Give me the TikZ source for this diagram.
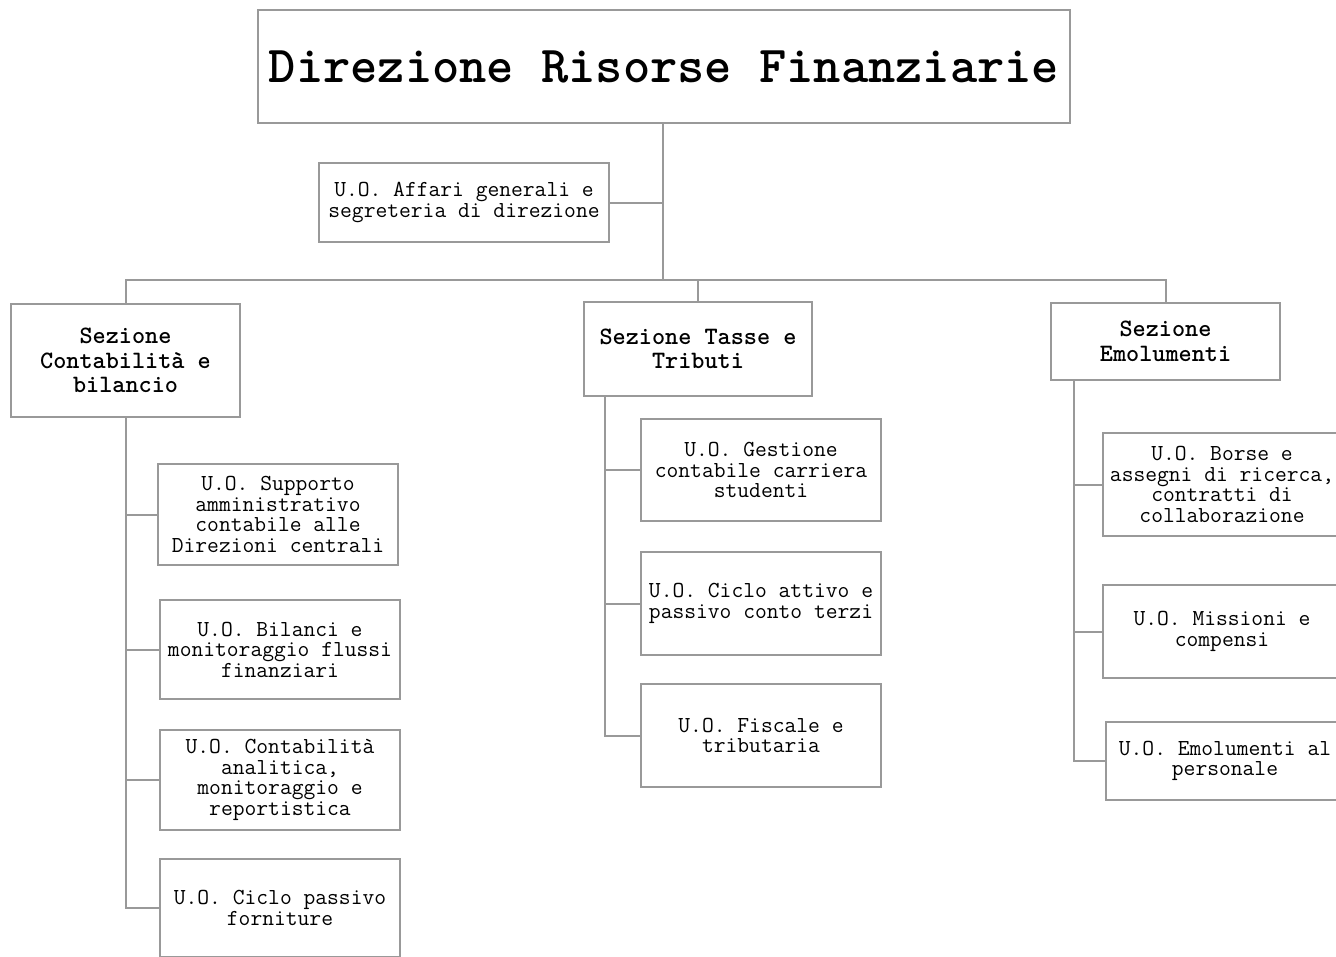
\documentclass[tikz,border=0pt]{standalone}
\usepackage{fontspec}
\definecolor{linegray}{RGB}{153,153,153}
\tikzset{
  box/.style={draw=linegray, line width=2pt, fill=white, inner sep=0pt, align=center},
  title/.style={box, font=\ttfamily\bfseries\fontsize{51.9}{56}\selectfont},
  sez/.style={box, font=\ttfamily\bfseries\fontsize{25}{24.5}\selectfont},
  uo/.style={box, font=\ttfamily\fontsize{22.9}{20.5}\selectfont},
  conn/.style={draw=linegray, line width=2pt}
}
\begin{document}
\begin{tikzpicture}[x=1pt, y=-1pt]
  \useasboundingbox (0,0) rectangle (1336,956);
  \clip (0,0) rectangle (1336,956);
  \fill[white] (0,0) rectangle (1336,956);
  \node[title, minimum width=812, minimum height=113] (dir) at (664,66.5) {Direzione Risorse Finanziarie};
  \node[uo, minimum width=290, minimum height=79] (affari) at (464,202.5) {U.O. Affari generali e\\segreteria di direzione};
  \node[sez, minimum width=229, minimum height=113] (secCont) at (125.5,360.5) {Sezione\\Contabilità e\\bilancio};
  \node[sez, minimum width=228, minimum height=94] (secTasse) at (698,349) {Sezione Tasse e\\Tributi};
  \node[sez, minimum width=229, minimum height=77] (secEmol) at (1165.5,341.5) {Sezione\\Emolumenti};
  \node[uo, minimum width=240, minimum height=101] (cont1) at (278,514.5) {U.O. Supporto\\amministrativo\\contabile alle\\Direzioni centrali};
  \node[uo, minimum width=240, minimum height=99] (cont2) at (280,649.5) {U.O. Bilanci e\\monitoraggio flussi\\finanziari};
  \node[uo, minimum width=240, minimum height=100] (cont3) at (280,780) {U.O. Contabilità\\analitica,\\monitoraggio e\\reportistica};
  \node[uo, minimum width=240, minimum height=98] (cont4) at (280,908) {U.O. Ciclo passivo\\forniture};
  \node[uo, minimum width=240, minimum height=102] (tasse1) at (761,470) {U.O. Gestione\\contabile carriera\\studenti};
  \node[uo, minimum width=240, minimum height=103] (tasse2) at (761,603.5) {U.O. Ciclo attivo e\\passivo conto terzi};
  \node[uo, minimum width=240, minimum height=103] (tasse3) at (761,735.5) {U.O. Fiscale e\\tributaria};
  \node[uo, minimum width=238, minimum height=103] (emol1) at (1222,484.5) {U.O. Borse e\\assegni di ricerca,\\contratti di\\collaborazione};
  \node[uo, minimum width=238, minimum height=93] (emol2) at (1222,631.5) {U.O. Missioni e\\compensi};
  \node[uo, minimum width=238, minimum height=78] (emol3) at (1225,761) {U.O. Emolumenti al\\personale};
  \coordinate (bus) at (663,280);
  \coordinate (tT) at ([xshift=22pt]secTasse.south west);
  \coordinate (tE) at ([xshift=24pt]secEmol.south west);
  \draw[conn] (dir.south -| bus) -- (bus);
  \draw[conn] (affari.east) -- (affari.east -| bus);
  \draw[conn] (secCont.north) |- (bus) -| (secEmol.north);
  \draw[conn] (secTasse.north) -- (secTasse.north |- bus);
  \draw[conn] (secCont.south) |- (cont4.west);
  \foreach \i in {1,2,3}
    \draw[conn] (cont\i.west) -- (cont\i.west -| secCont.south);
  \draw[conn] (tT) |- (tasse3.west);
  \foreach \i in {1,2}
    \draw[conn] (tasse\i.west) -- (tasse\i.west -| tT);
  \draw[conn] (tE) |- (emol3.west);
  \foreach \i in {1,2}
    \draw[conn] (emol\i.west) -- (emol\i.west -| tE);
\end{tikzpicture}
\end{document}
